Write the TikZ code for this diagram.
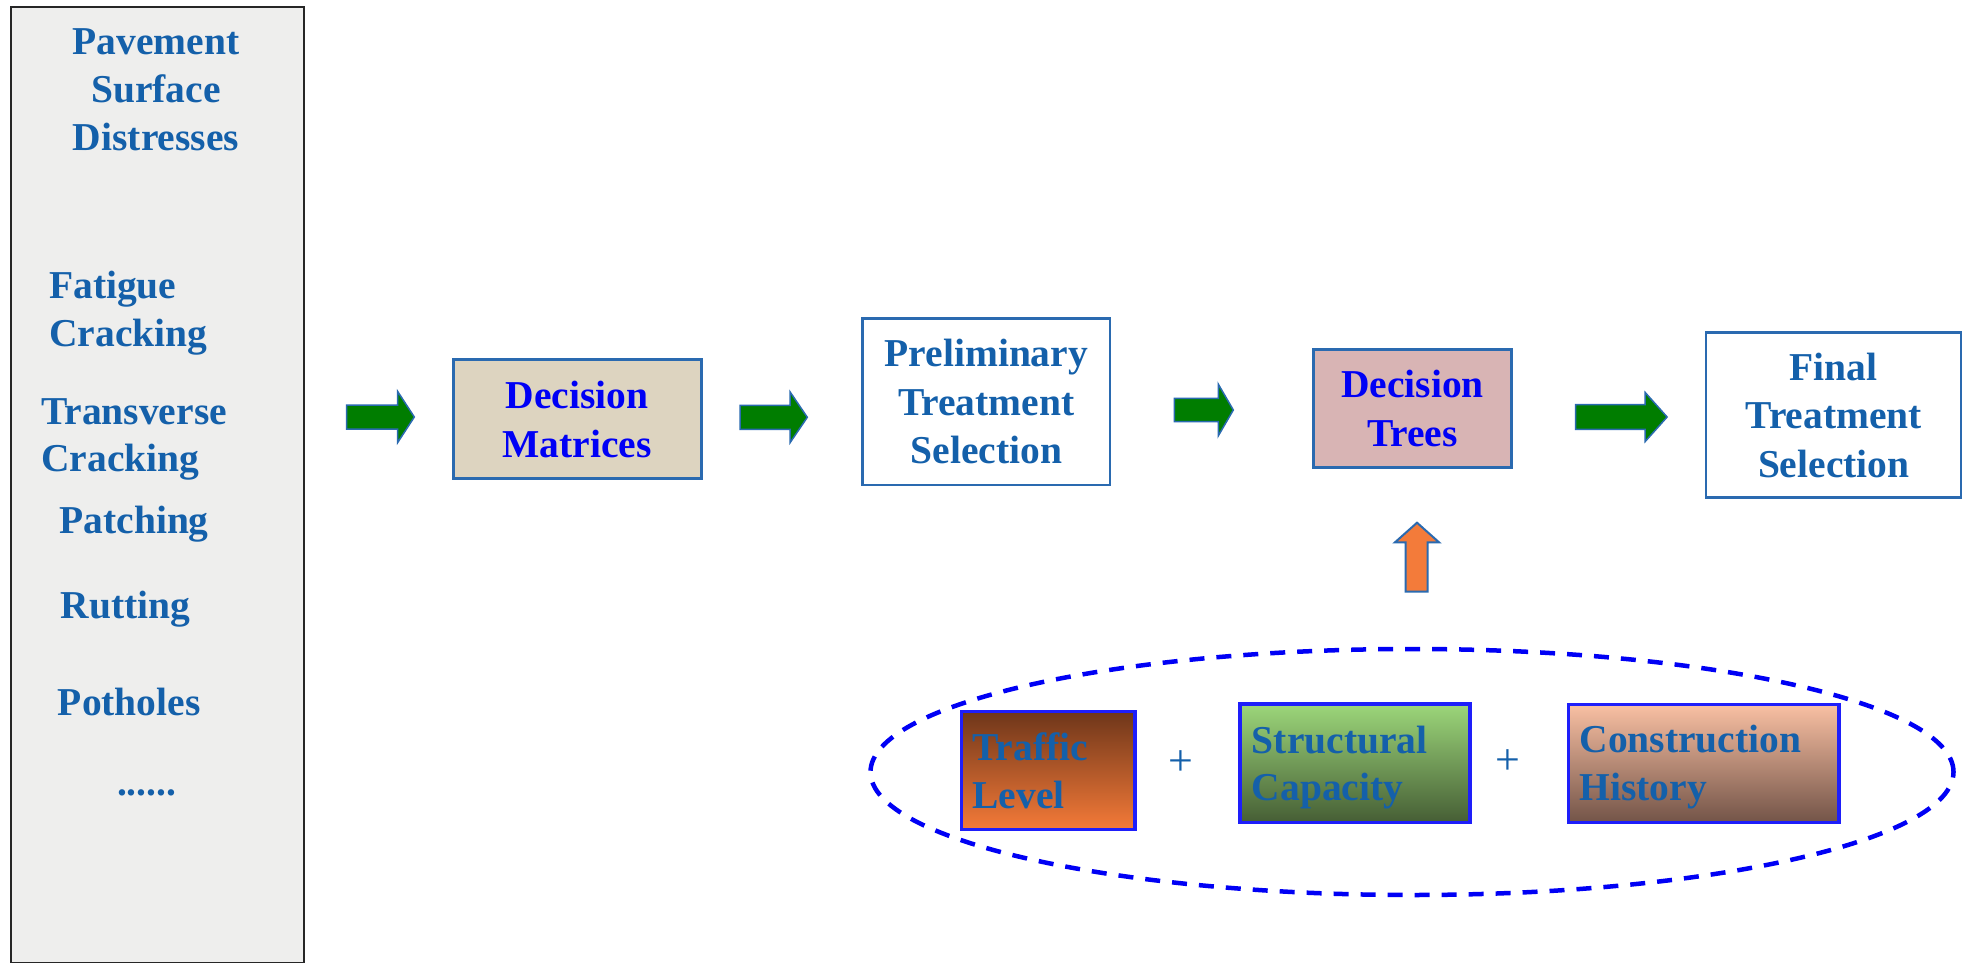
\documentclass[tikz,border=0pt]{standalone}
\usepackage{fontspec}
\setmainfont{Liberation Serif}
\usetikzlibrary{shapes.geometric}
\definecolor{txtblue}{RGB}{20,96,170}
\definecolor{pureblue}{RGB}{0,0,245}
\definecolor{edgeblue}{RGB}{42,106,176}
\definecolor{brightblue}{RGB}{30,30,250}
\definecolor{arrowgreen}{RGB}{0,125,0}
\definecolor{arroworange}{RGB}{243,123,58}
\definecolor{panelgray}{RGB}{238,238,237}
\definecolor{matfill}{RGB}{221,212,192}
\definecolor{treefill}{RGB}{216,180,180}
\definecolor{trafftop}{RGB}{110,54,26}
\definecolor{traffbot}{RGB}{244,122,56}
\definecolor{structtop}{RGB}{156,214,122}
\definecolor{structbot}{RGB}{70,94,53}
\definecolor{constop}{RGB}{249,192,163}
\definecolor{consbot}{RGB}{115,84,72}
\newcommand{\bigfont}{\fontsize{39.5}{48.5}\selectfont\bfseries}
\newcommand{\myharrow}[6]{%
  \draw[greenarrow] (#1,#4-#5) -- (#2,#4-#5) -- (#2,#4-#6) -- (#3,#4) -- (#2,#4+#6) -- (#2,#4+#5) -- (#1,#4+#5) -- cycle;}
\tikzset{
  paneltext/.style={inner sep=0pt, text=txtblue, font=\bigfont},
  flowbox/.style={draw, inner sep=0pt, align=center, font=\bigfont},
  matbox/.style={flowbox, draw=edgeblue, line width=3pt, fill=matfill, text=pureblue},
  treebox/.style={flowbox, draw=edgeblue, line width=3pt, fill=treefill, text=pureblue},
  prelbox/.style={flowbox, draw=edgeblue, line width=2.5pt, fill=white, text=txtblue},
  factorbox/.style={draw=brightblue, line width=3.5pt, inner sep=0pt},
  factortext/.style={inner sep=0pt, text=txtblue, font=\bigfont, anchor=base west},
  plussign/.style={inner sep=0pt, text=txtblue, font=\fontsize{44}{48.5}\selectfont},
  greenarrow/.style={fill=arrowgreen, draw=edgeblue, line width=1.5pt, line join=miter},
  orangearrow/.style={fill=arroworange, draw=edgeblue, line width=2pt, line join=miter},
  groupell/.style={ellipse, draw=pureblue, line width=4.5pt, dash pattern=on 15pt off 12pt, inner sep=0pt}
}
\begin{document}
\begin{tikzpicture}[x=1pt,y=-1pt]
\useasboundingbox[fill=white] (0,0) rectangle (1969,963);

% left panel
\node[draw=black!85, line width=2pt, fill=panelgray, minimum width=293pt, minimum height=956pt, anchor=north west, inner sep=0pt] (panel) at (10,6) {};
\node[paneltext, anchor=base] (pave) at (156,55) {Pavement};
\node[paneltext, anchor=base] (surf) at (156,102.7) {Surface};
\node[paneltext, anchor=base] (dist) at (156,150.7) {Distresses};
\node[paneltext, anchor=base west] (fat1) at (49,298.3) {Fatigue};
\node[paneltext, anchor=base west] (fat2) at (49,346.7) {Cracking};
\node[paneltext, anchor=base west] (tra1) at (41,424) {Transverse};
\node[paneltext, anchor=base west] (tra2) at (41,471.7) {Cracking};
\node[paneltext, anchor=base west] (patch) at (59.3,533.3) {Patching};
\node[paneltext, anchor=base west] (rut) at (60.7,618.3) {Rutting};
\node[paneltext, anchor=base west] (pot) at (57.7,715) {Potholes};
\node[paneltext, anchor=base] (more) at (146.7,795) {......};

% main flow boxes
\node[matbox, minimum width=247.7pt, minimum height=118.7pt] (dm) at (577.2,419.3) {Decision\\Matrices};
\node[prelbox, minimum width=247.3pt, minimum height=166.7pt] (pts) at (986.3,401.7) {Preliminary\\Treatment\\Selection};
\node[treebox, minimum width=198pt, minimum height=118pt] (dt) at (1412.5,408.3) {Decision\\Trees};
\node[prelbox, minimum width=255pt, minimum height=165.4pt] (fts) at (1833.7,415) {Final\\Treatment\\Selection};

% green block arrows
\myharrow{346.7}{397.7}{414.3}{417}{12}{25.5}
\myharrow{740}{790}{807.3}{417.3}{12}{25.5}
\myharrow{1174.3}{1218.3}{1233.3}{410}{11.7}{25.8}
\myharrow{1575.7}{1645.2}{1667.1}{417}{12.3}{24.5}

% group ellipse and factors
\node[groupell, minimum width=1083pt, minimum height=246pt] (grp) at (1412,772) {};
\node[factorbox, top color=trafftop, bottom color=traffbot, minimum width=173.3pt, minimum height=117.6pt] (traffic) at (1048.3,770.5) {};
\node[factorbox, top color=structtop, bottom color=structbot, minimum width=230pt, minimum height=118.3pt] (struct) at (1355,763.2) {};
\node[factorbox, top color=constop, bottom color=consbot, minimum width=270.7pt, minimum height=118pt] (cons) at (1703.7,763.3) {};
\node[factortext] (traf1) at (972.3,760) {Traffic};
\node[factortext] (traf2) at (972.3,808.3) {Level};
\node[factortext] (str1) at (1251.7,753.3) {Structural};
\node[factortext] (str2) at (1251.7,800) {Capacity};
\node[factortext] (con1) at (1579.3,752.7) {Construction};
\node[factortext] (con2) at (1579.3,800.7) {History};
\node[plussign] (plus1) at (1180.7,762.7) {+};
\node[plussign] (plus2) at (1508.3,761.7) {+};

% orange arrow up into decision trees
\draw[orangearrow] (1405.7,591.7) -- (1405.7,542.3) -- (1395,542.3) -- (1417,522.7) -- (1439,542.3) -- (1427.7,542.3) -- (1427.7,591.7) -- cycle;
\end{tikzpicture}
\end{document}
